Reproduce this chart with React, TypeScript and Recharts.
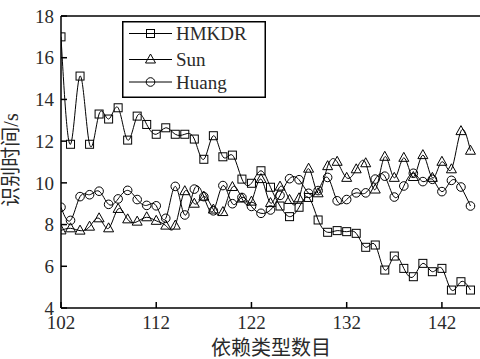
import React from 'react';
import { LineChart, Line, XAxis, YAxis, ReferenceLine, Legend } from 'recharts';

const typeCounts = [
  102, 103, 104, 105, 106, 107, 108, 109, 110, 111, 112, 113, 114, 115, 116,
  117, 118, 119, 120, 121, 122, 123, 124, 125, 126, 127, 128, 129, 130, 131,
  132, 133, 134, 135, 136, 137, 138, 139, 140, 141, 142, 143, 144, 145,
];

const hmkdrTimes = [
  17.0, 11.85, 15.12, 11.85, 13.3, 13.06, 13.6, 12.05, 13.2, 12.8, 12.33, 12.64,
  12.33, 12.33, 12.1, 11.13, 12.26, 11.25, 11.33, 10.18, 9.98, 10.58, 9.79, 8.89,
  8.38, 8.83, 9.3, 8.22, 7.63, 7.71, 7.66, 7.58, 6.91, 7.02, 5.82, 6.49, 5.9, 5.5,
  6.14, 5.74, 5.9, 4.86, 5.26, 4.86,
];

const sunTimes = [
  7.72, 7.82, 7.71, 7.9, 8.3, 7.82, 8.75, 8.25, 8.14, 8.35, 8.18, 7.95, 7.95, 9.6,
  9.0, 9.34, 8.72, 8.6, 9.8, 9.25, 9.1, 10.18, 9.03, 9.82, 9.18, 9.26, 10.68, 9.5,
  10.8, 11.01, 10.24, 10.65, 10.94, 9.68, 11.25, 10.24, 11.2, 10.28, 11.33, 10.24,
  11.01, 10.65, 12.48, 11.54,
];

const huangTimes = [
  8.83, 8.2, 9.34, 9.43, 9.6, 8.97, 9.23, 9.64, 9.2, 8.92, 8.9, 8.3, 9.83, 8.46,
  9.7, 9.34, 8.66, 9.87, 9.0, 9.3, 8.87, 8.54, 8.7, 9.4, 10.2, 10.15, 9.5, 9.63,
  10.26, 9.14, 9.2, 9.52, 9.52, 10.18, 10.32, 9.32, 9.85, 10.46, 10.06, 10.17, 9.58,
  10.12, 9.8, 8.89,
];

const xTicks = [102, 112, 122, 132, 142];
const yTicks = [4, 6, 8, 10, 12, 14, 16, 18];
const seriesNames = ['HMKDR', 'Sun', 'Huang'];

const data = typeCounts.map((n, i) => ({
  n,
  hmkdr: hmkdrTimes[i],
  sun: sunTimes[i],
  huang: huangTimes[i],
}));

const FONT = "'Liberation Serif', 'DejaVu Serif', 'Noto Sans CJK SC', serif";
const INK = '#000';
const TEXT = '#2a2a2a';

// marker shapes, hollow so the line shows through like the original
function drawMarker(kind: string, cx: number, cy: number, key?: string) {
  if (kind === 'square') {
    return <rect key={key} x={cx - 4} y={cy - 4} width={8} height={8} fill="none" stroke={INK} strokeWidth={1} />;
  }
  if (kind === 'triangle') {
    return (
      <polygon
        key={key}
        points={`${cx},${cy - 5.5} ${cx - 5},${cy + 3.5} ${cx + 5},${cy + 3.5}`}
        fill="none"
        stroke={INK}
        strokeWidth={1}
      />
    );
  }
  return <circle key={key} cx={cx} cy={cy} r={4.3} fill="none" stroke={INK} strokeWidth={1} />;
}

const markerDot = (kind: string) => (props: any) => {
  const { cx, cy, index } = props;
  if (cx == null || cy == null) return <g key={`${kind}-${index}`} />;
  return drawMarker(kind, cx, cy, `${kind}-${index}`);
};

const markerKinds = ['square', 'triangle', 'circle'];

const LegendBox = () => {
  const rows = [12.5, 38.5, 61];
  return (
    <svg width={144} height={77} style={{ display: 'block' }}>
      <rect x={0.75} y={0.75} width={142.5} height={75.5} fill="#fff" stroke={INK} strokeWidth={1.5} />
      {seriesNames.map((name, i) => (
        <g key={name}>
          <line x1={7} x2={50} y1={rows[i]} y2={rows[i]} stroke={INK} strokeWidth={1} />
          {drawMarker(markerKinds[i], 28.5, rows[i])}
          <text x={54} y={rows[i]} dy="0.35em" fontSize={19} fontFamily={FONT} fill={TEXT}>
            {name}
          </text>
        </g>
      ))}
    </svg>
  );
};

const YTitle = () => (
  <text
    x={11}
    y={160}
    transform="rotate(-90 11 160)"
    textAnchor="middle"
    dominantBaseline="central"
    fontSize={20}
    fontFamily={FONT}
    fill={TEXT}
  >
    识别时间/s
  </text>
);

const XTitle = () => (
  <text x={271} y={348} textAnchor="middle" dominantBaseline="central" fontSize={20} fontFamily={FONT} fill={TEXT}>
    依赖类型数目
  </text>
);

export default function App() {
  const tickStyle = { fontSize: 19, fontFamily: FONT, fill: TEXT };
  return (
    <div style={{ position: 'absolute', left: 0, top: 0, width: 480, height: 359, background: '#fff' }}>
      <LineChart width={480} height={359} data={data} margin={{ top: 16, right: 0, bottom: 0, left: 0 }}>
        <XAxis
          dataKey="n"
          type="number"
          domain={[102, 146]}
          ticks={xTicks}
          allowDataOverflow
          height={51}
          stroke={INK}
          strokeWidth={1.5}
          tickSize={-6}
          tickMargin={14}
          tick={tickStyle}
          label={<XTitle />}
        />
        <YAxis
          type="number"
          domain={[4, 18]}
          ticks={yTicks}
          allowDataOverflow
          width={61}
          stroke={INK}
          strokeWidth={1.5}
          tickSize={-6}
          tickMargin={13}
          tick={tickStyle}
          label={<YTitle />}
        />
        <ReferenceLine y={18} stroke={INK} strokeWidth={1.5} ifOverflow="extendDomain" />
        <Legend
          layout="vertical"
          align="center"
          verticalAlign="middle"
          content={<LegendBox />}
          wrapperStyle={{ left: 122, top: 21, width: 144, height: 77 }}
        />
        <Line
          dataKey="hmkdr"
          name={seriesNames[0]}
          type="natural"
          stroke={INK}
          strokeWidth={1}
          dot={markerDot('square')}
          isAnimationActive={false}
        />
        <Line
          dataKey="sun"
          name={seriesNames[1]}
          type="natural"
          stroke={INK}
          strokeWidth={1}
          dot={markerDot('triangle')}
          isAnimationActive={false}
        />
        <Line
          dataKey="huang"
          name={seriesNames[2]}
          type="natural"
          stroke={INK}
          strokeWidth={1}
          dot={markerDot('circle')}
          isAnimationActive={false}
        />
      </LineChart>
    </div>
  );
}
